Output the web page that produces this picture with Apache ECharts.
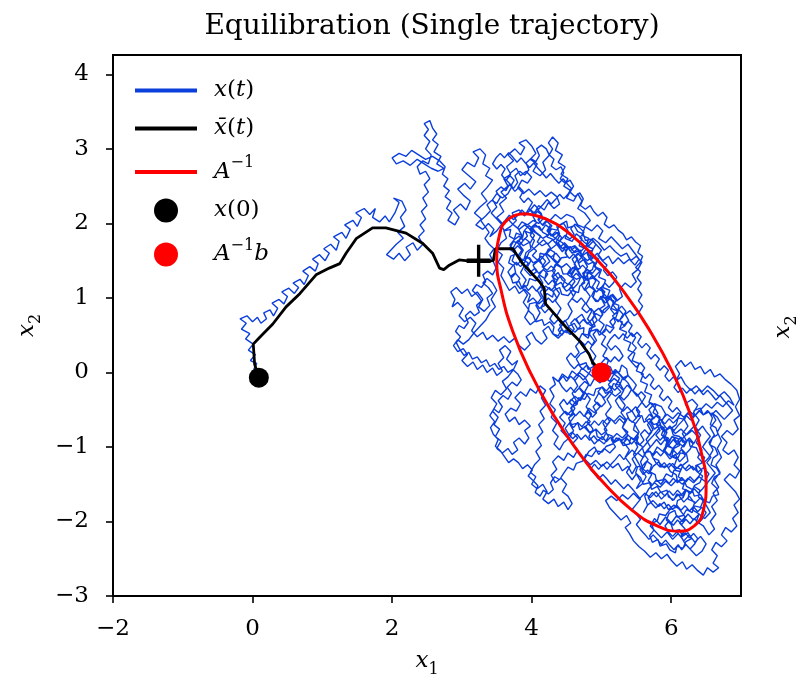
<!DOCTYPE html>
<html>
<head>
<meta charset="utf-8">
<script src="https://cdn.jsdelivr.net/npm/echarts@6/dist/echarts.min.js"></script>
<style>
  html, body { margin: 0; padding: 0; background: #fff; }
  #chart { width: 804px; height: 683px; }
</style>
</head>
<body>
<div id="chart"></div>
<script>
// tick values
const xTicks = [-2, 0, 2, 4, 6];
const yTicks = [-3, -2, -1, 0, 1, 2, 3, 4];

// single trajectory x(t) (x, y pairs)
const walkStart = [0.09,-0.07, 0.02,0.05, 0.06,0.12, -0.03,0.16, 0.04,0.24, -0.06,0.3, 0.01,0.38, -0.1,0.45, -0.04,0.52, -0.16,0.58, -0.09,0.66, -0.18,0.72, -0.08,0.76, 0.0,0.68, 0.07,0.74, 0.12,0.66, 0.2,0.72, 0.16,0.8, 0.25,0.84, 0.3,0.76, 0.36,0.86, 0.28,0.93, 0.38,0.98, 0.45,0.92, 0.5,1.02, 0.42,1.08, 0.52,1.13, 0.6,1.06, 0.66,1.14, 0.58,1.2, 0.68,1.25, 0.74,1.18, 0.8,1.3, 0.72,1.36, 0.82,1.42, 0.9,1.36, 0.94,1.46, 0.86,1.52, 0.96,1.58, 1.04,1.5, 1.1,1.6, 1.02,1.66, 1.12,1.72, 1.2,1.64, 1.24,1.76, 1.16,1.82, 1.28,1.88, 1.34,1.8, 1.4,1.92, 1.32,1.98, 1.44,2.04, 1.5,1.96, 1.56,2.08, 1.48,2.14, 1.6,2.2, 1.68,2.12, 1.76,2.2, 1.72,2.08, 1.82,2.02, 1.9,2.1, 1.96,2.02, 2.04,2.14, 2.1,2.28, 2.02,2.34, 2.14,2.3, 2.2,2.18, 2.12,2.08, 2.18,1.96, 2.08,1.88, 2.16,1.8, 2.06,1.72];
const walkDip = [2.0,1.66, 1.92,1.58, 2.02,1.52, 2.1,1.6, 2.18,1.5, 2.26,1.58, 2.2,1.68, 2.3,1.74, 2.36,1.64, 2.44,1.72, 2.38,1.82, 2.46,1.9, 2.4,1.98, 2.48,2.06, 2.42,2.16, 2.5,2.24, 2.44,2.34, 2.52,2.42, 2.46,2.52, 2.54,2.6, 2.48,2.7, 2.4,2.66, 2.36,2.76, 2.44,2.84, 2.52,2.8, 2.56,2.92, 2.48,3.0, 2.54,3.1, 2.46,3.18, 2.52,3.26, 2.46,3.34, 2.54,3.38, 2.58,3.28, 2.64,3.2, 2.58,3.12, 2.66,3.06, 2.6,2.96, 2.7,2.9, 2.64,2.8, 2.74,2.74, 2.66,2.7, 2.56,2.74, 2.46,2.8, 2.36,2.86, 2.26,2.78, 2.16,2.84, 2.06,2.8, 2.0,2.88, 2.1,2.94, 2.2,2.9, 2.28,2.98, 2.38,2.92, 2.48,2.86, 2.58,2.9, 2.68,2.84, 2.76,2.76, 2.72,2.66, 2.8,2.6, 2.74,2.5, 2.82,2.44, 2.76,2.36, 2.84,2.3, 2.78,2.2, 2.86,2.14, 2.8,2.04, 2.9,1.98];
const walkCluster = [2.96,2.08, 2.88,2.18, 2.98,2.26, 3.06,2.18, 3.12,2.3, 3.02,2.38, 2.94,2.46, 3.04,2.54, 3.12,2.46, 3.2,2.56, 3.1,2.64, 3.0,2.72, 3.08,2.82, 3.18,2.76, 3.24,2.88, 3.16,2.96, 3.26,3.0, 3.34,2.92, 3.3,2.8, 3.4,2.74, 3.34,2.64, 3.44,2.58, 3.36,2.48, 3.28,2.4, 3.36,2.3, 3.26,2.22, 3.18,2.14, 3.28,2.06, 3.2,1.98, 3.3,1.92, 3.38,2.0, 3.46,1.92, 3.4,1.82];
const walkTop = [3.5,1.9, 3.58,2.0, 3.5,2.08, 3.6,2.16, 3.54,2.26, 3.64,2.34, 3.56,2.42, 3.66,2.5, 3.6,2.6, 3.7,2.66, 3.64,2.76, 3.74,2.84, 3.66,2.92, 3.76,3.0, 3.84,2.92, 3.9,3.02, 3.82,3.08, 3.92,3.12, 4.0,3.04, 4.06,2.94, 3.98,2.86, 4.08,2.8, 4.02,2.7, 4.12,2.64, 4.2,2.72, 4.16,2.82, 4.24,2.9, 4.3,3.0, 4.24,3.08, 4.3,3.16, 4.38,3.08, 4.34,2.98, 4.44,2.92, 4.38,2.82, 4.48,2.76, 4.42,2.66, 4.52,2.6, 4.46,2.5, 4.56,2.44, 4.5,2.34, 4.6,2.3, 4.66,2.4, 4.72,2.3, 4.66,2.2, 4.76,2.14, 4.84,2.04, 4.76,1.96, 4.86,1.9, 4.94,1.98, 5.02,1.9, 4.96,1.8, 5.06,1.74, 5.14,1.82, 5.22,1.74, 5.3,1.66, 5.38,1.72, 5.46,1.62, 5.54,1.52, 5.48,1.44, 5.4,1.52, 5.32,1.46, 5.24,1.54, 5.16,1.46, 5.1,1.56, 5.02,1.5, 4.94,1.6, 4.86,1.52, 4.8,1.62, 4.72,1.56, 4.66,1.66, 4.58,1.6, 4.5,1.7, 4.44,1.62, 4.36,1.72, 4.28,1.66];
const walkUpperCore = [4.2,1.58, 4.26,1.49, 4.18,1.42, 4.1,1.5, 4.02,1.44, 4.07,1.35, 3.98,1.3, 3.9,1.38, 3.95,1.47, 3.86,1.52, 3.79,1.44, 3.72,1.5, 3.76,1.6, 3.68,1.66, 3.74,1.76, 3.84,1.72, 3.9,1.8, 3.98,1.74, 4.04,1.84, 3.97,1.92, 4.06,1.98, 4.14,1.9, 4.2,1.98, 4.28,1.92, 4.22,1.82, 4.32,1.78, 4.4,1.86, 4.36,1.96, 4.46,2.0, 4.52,1.9, 4.48,1.8, 4.58,1.76, 4.64,1.86, 4.72,1.8, 4.68,1.7, 4.78,1.66, 4.72,1.57, 4.8,1.5, 4.88,1.58, 4.96,1.52, 4.9,1.42, 4.98,1.36, 4.9,1.28, 4.82,1.34, 4.76,1.26, 4.68,1.32, 4.62,1.42, 4.54,1.36, 4.6,1.26, 4.52,1.18, 4.44,1.24, 4.38,1.34, 4.3,1.28, 4.36,1.18, 4.28,1.1, 4.2,1.16, 4.12,1.08, 4.18,0.98, 4.1,0.92, 4.02,1.0, 3.94,0.94, 3.98,1.04, 3.9,1.12, 3.82,1.06, 3.76,1.16, 3.68,1.1, 3.62,1.2, 3.56,1.3, 3.6,1.4, 3.52,1.48, 3.58,1.58, 3.5,1.64, 3.56,1.74, 3.64,1.8, 3.6,1.9, 3.7,1.96, 3.78,2.04, 3.72,2.14, 3.82,2.18, 3.9,2.1, 3.96,2.2, 4.04,2.14, 4.1,2.24, 4.18,2.18, 4.24,2.28, 4.32,2.2, 4.4,2.26, 4.36,2.36, 4.28,2.42, 4.2,2.36, 4.12,2.44, 4.04,2.38, 3.96,2.46, 3.88,2.4, 3.8,2.48, 3.86,2.58, 3.94,2.54, 4.0,2.62, 3.92,2.7, 3.84,2.64, 3.78,2.74, 3.7,2.68, 3.64,2.58, 3.72,2.5, 3.66,2.4, 3.58,2.34, 3.5,2.4, 3.44,2.32, 3.5,2.22, 3.42,2.14, 3.5,2.06, 3.58,1.98, 3.66,2.06];
const walkUpperRight = [3.74,1.98, 3.82,1.92, 3.9,1.98, 3.98,1.92, 4.08,1.86, 4.16,1.8, 4.26,1.86, 4.34,1.8, 4.44,1.74, 4.52,1.66, 4.62,1.7, 4.7,1.62, 4.8,1.72, 4.88,1.8, 4.96,1.74, 5.04,1.64, 5.12,1.7, 5.2,1.62, 5.28,1.56, 5.36,1.6, 5.42,1.5, 5.5,1.56, 5.58,1.48, 5.52,1.38, 5.44,1.32, 5.5,1.22, 5.42,1.14, 5.34,1.2, 5.26,1.12, 5.3,1.02, 5.22,0.96, 5.14,1.04, 5.06,0.98, 5.12,0.88, 5.04,0.8, 4.96,0.86, 4.88,0.8, 4.94,0.7, 4.86,0.62, 4.78,0.68, 4.72,0.78, 4.64,0.72, 4.7,0.62, 4.62,0.54, 4.54,0.6, 4.48,0.7, 4.4,0.64, 4.46,0.54, 4.38,0.46, 4.3,0.52, 4.24,0.62, 4.16,0.56, 4.22,0.46, 4.14,0.38, 4.06,0.44, 4.0,0.54, 3.92,0.48, 3.98,0.38, 3.9,0.3, 3.82,0.36, 3.76,0.46, 3.68,0.4];
const walkLeft = [3.6,0.48, 3.52,0.42, 3.44,0.5, 3.36,0.44, 3.3,0.54, 3.22,0.48, 3.14,0.56, 3.2,0.66, 3.12,0.74, 3.04,0.68, 2.96,0.76, 3.02,0.86, 2.94,0.94, 2.86,0.88, 2.9,0.98, 2.84,1.08, 2.92,1.14, 3.0,1.06, 3.08,1.12, 3.14,1.02, 3.22,1.08, 3.3,0.98, 3.24,0.88, 3.32,0.82, 3.4,0.9, 3.36,1.0, 3.44,1.06, 3.38,1.14, 3.3,1.2, 3.36,1.26, 3.44,1.2, 3.5,1.1, 3.42,0.98, 3.48,0.88, 3.4,0.8, 3.34,0.7, 3.26,0.62, 3.18,0.54, 3.1,0.44, 3.02,0.38, 2.94,0.44, 2.88,0.36, 2.94,0.28, 3.02,0.32, 3.08,0.24, 3.0,0.16, 3.08,0.08, 3.16,0.14, 3.22,0.04, 3.3,0.1, 3.36,0.0, 3.44,0.06, 3.5,-0.04, 3.58,0.02, 3.52,0.12, 3.6,0.2, 3.54,0.3, 3.62,0.36, 3.7,0.28, 3.64,0.18, 3.72,0.1, 3.8,0.16];
const walkLowerLeft = [3.74,0.04, 3.66,-0.06, 3.58,-0.12, 3.64,-0.22, 3.56,-0.3, 3.48,-0.24, 3.42,-0.34, 3.5,-0.42, 3.44,-0.52, 3.52,-0.6, 3.46,-0.7, 3.54,-0.76, 3.48,-0.86, 3.56,-0.92, 3.5,-1.02, 3.58,-1.08, 3.66,-1.02, 3.72,-1.1, 3.8,-1.04, 3.74,-0.94, 3.82,-0.88, 3.9,-0.96, 3.96,-0.88, 3.9,-0.78, 3.98,-0.72, 3.9,-0.64, 3.82,-0.7, 3.76,-0.6, 3.68,-0.66, 3.62,-0.56, 3.7,-0.48, 3.78,-0.52, 3.84,-0.42, 3.76,-0.34, 3.84,-0.26, 3.92,-0.32, 3.98,-0.22, 4.06,-0.28, 4.12,-0.18, 4.2,-0.24, 4.14,-0.34, 4.2,-0.44, 4.12,-0.52, 4.18,-0.62, 4.1,-0.7, 4.16,-0.8, 4.08,-0.88, 4.14,-0.98, 4.06,-1.06, 4.12,-1.16, 4.04,-1.24, 3.98,-1.34, 4.06,-1.4, 4.0,-1.5, 4.08,-1.56, 4.16,-1.5, 4.22,-1.6, 4.16,-1.7, 4.24,-1.76, 4.32,-1.7, 4.38,-1.8, 4.46,-1.74, 4.52,-1.84, 4.58,-1.76, 4.52,-1.66, 4.44,-1.6, 4.5,-1.5, 4.42,-1.42, 4.34,-1.48, 4.28,-1.38, 4.36,-1.3, 4.3,-1.2, 4.38,-1.12, 4.46,-1.18, 4.52,-1.08];
const walkCore = [4.6,-1.14, 4.66,-1.04, 4.58,-0.96, 4.66,-0.88, 4.58,-0.8, 4.5,-0.86, 4.42,-0.78, 4.48,-0.68, 4.4,-0.6, 4.48,-0.52, 4.56,-0.58, 4.62,-0.48, 4.54,-0.4, 4.62,-0.32, 4.7,-0.38, 4.76,-0.28, 4.68,-0.2, 4.76,-0.12, 4.84,-0.18, 4.9,-0.08, 4.98,-0.14, 5.04,-0.06, 5.12,-0.12, 5.18,-0.02, 5.26,-0.08, 5.2,-0.18, 5.28,-0.26, 5.2,-0.32, 5.12,-0.26, 5.04,-0.34, 4.96,-0.28, 4.9,-0.38, 4.98,-0.46, 4.9,-0.54, 4.82,-0.48, 4.76,-0.58, 4.84,-0.66, 4.76,-0.74, 4.84,-0.82, 4.92,-0.76, 5.0,-0.84, 5.08,-0.78, 5.02,-0.68, 5.1,-0.6, 5.18,-0.66, 5.26,-0.58, 5.34,-0.64, 5.3,-0.74, 5.38,-0.8, 5.3,-0.88, 5.22,-0.82, 5.14,-0.9, 5.2,-1.0, 5.12,-1.08, 5.04,-1.02, 4.96,-1.1, 4.9,-1.0, 4.82,-1.06, 4.76,-1.16, 4.84,-1.24, 4.92,-1.18, 5.0,-1.26, 5.08,-1.2, 5.16,-1.28, 5.24,-1.22, 5.3,-1.32, 5.38,-1.26, 5.44,-1.36, 5.5,-1.26, 5.44,-1.16, 5.52,-1.08, 5.6,-1.14, 5.66,-1.04];
const walkLowerRight = [5.74,-1.1, 5.8,-1.0, 5.88,-1.06, 5.94,-0.96, 6.02,-1.02, 6.1,-0.94, 6.18,-1.0, 6.24,-0.9, 6.32,-0.96, 6.38,-0.86, 6.3,-0.78, 6.22,-0.84, 6.14,-0.76, 6.06,-0.82, 5.98,-0.74, 5.9,-0.8, 5.84,-0.7, 5.76,-0.76, 5.7,-0.66, 5.78,-0.58, 5.86,-0.64, 5.94,-0.56, 6.02,-0.62, 6.1,-0.54, 6.18,-0.6, 6.26,-0.52, 6.34,-0.58, 6.42,-0.5, 6.5,-0.42, 6.58,-0.48, 6.66,-0.4, 6.74,-0.46, 6.82,-0.38, 6.9,-0.44, 6.84,-0.34, 6.76,-0.26, 6.68,-0.32, 6.6,-0.24, 6.52,-0.18, 6.44,-0.26, 6.36,-0.18, 6.28,-0.24, 6.2,-0.16, 6.14,-0.06, 6.06,-0.12, 6.12,-0.02, 6.06,0.08, 6.14,0.16, 6.2,0.08, 6.28,0.14, 6.34,0.04, 6.42,0.08, 6.48,-0.02, 6.56,0.04, 6.62,-0.06, 6.7,-0.02, 6.78,-0.1];
const walkEdge = [6.86,-0.16, 6.94,-0.24, 6.98,-0.36, 6.92,-0.46, 6.98,-0.58, 6.9,-0.64, 6.96,-0.76, 6.88,-0.84, 6.8,-0.78, 6.72,-0.86, 6.8,-0.94, 6.74,-1.04, 6.82,-1.1, 6.9,-1.04, 6.96,-1.14, 6.9,-1.24, 6.98,-1.32, 6.92,-1.42, 6.84,-1.36, 6.76,-1.44, 6.84,-1.52, 6.92,-1.6, 6.98,-1.7, 6.9,-1.78, 6.96,-1.88, 6.88,-1.96, 6.94,-2.06, 6.86,-2.14, 6.78,-2.08, 6.72,-2.18, 6.8,-2.26, 6.72,-2.34, 6.64,-2.28, 6.58,-2.38, 6.66,-2.46, 6.6,-2.56, 6.68,-2.62, 6.6,-2.68, 6.52,-2.62, 6.46,-2.72, 6.38,-2.66, 6.3,-2.58, 6.22,-2.64, 6.16,-2.54, 6.08,-2.6, 6.0,-2.52, 5.94,-2.44, 5.86,-2.5, 5.78,-2.42, 5.7,-2.48, 5.62,-2.4, 5.54,-2.34, 5.46,-2.26, 5.4,-2.16, 5.34,-2.08, 5.42,-2.02, 5.36,-1.92, 5.28,-1.98, 5.2,-1.9, 5.12,-1.82, 5.06,-1.72, 5.14,-1.66, 5.22,-1.72, 5.3,-1.64, 5.38,-1.7, 5.46,-1.62, 5.54,-1.7, 5.62,-1.62, 5.7,-1.68];
const walkBottom = [5.78,-1.6, 5.86,-1.7, 5.94,-1.62, 6.02,-1.72, 6.1,-1.64, 6.18,-1.74, 6.26,-1.66, 6.34,-1.76, 6.42,-1.68, 6.5,-1.78, 6.56,-1.88, 6.48,-1.96, 6.4,-1.9, 6.32,-1.98, 6.24,-1.9, 6.16,-2.0, 6.08,-1.92, 6.0,-2.02, 5.92,-1.94, 5.84,-2.04, 5.76,-1.96, 5.7,-2.06, 5.78,-2.14, 5.86,-2.22, 5.94,-2.14, 6.02,-2.24, 6.1,-2.16, 6.18,-2.26, 6.26,-2.18, 6.34,-2.28, 6.42,-2.2, 6.5,-2.3, 6.44,-2.4, 6.36,-2.46, 6.28,-2.38, 6.2,-2.3, 6.14,-2.2, 6.2,-2.1, 6.12,-2.02, 6.2,-1.94, 6.12,-1.84, 6.04,-1.78, 5.96,-1.84, 5.9,-1.74, 5.82,-1.8, 5.74,-1.72, 5.66,-1.78, 5.6,-1.88, 5.66,-1.78, 5.62,-1.66, 5.68,-1.56, 5.76,-1.48, 5.84,-1.54, 5.92,-1.46, 6.0,-1.52, 6.08,-1.44, 6.16,-1.5, 6.24,-1.42, 6.32,-1.48, 6.4,-1.4, 6.48,-1.46, 6.54,-1.36, 6.46,-1.28, 6.38,-1.34, 6.3,-1.26, 6.22,-1.32, 6.14,-1.24, 6.06,-1.3, 5.98,-1.22, 5.9,-1.28, 5.82,-1.2, 5.74,-1.26, 5.68,-1.36, 5.6,-1.3, 5.56,-1.2];
const walkSweep = [5.62,-1.1, 5.7,-1.0, 5.64,-0.9, 5.72,-0.8, 5.66,-0.7, 5.74,-0.6, 5.68,-0.5, 5.76,-0.42, 5.86,-0.46, 5.92,-0.56, 5.86,-0.66, 5.94,-0.76, 5.88,-0.86, 5.96,-0.96, 5.9,-1.06, 5.98,-1.16, 6.06,-1.1, 6.12,-1.2, 6.2,-1.12, 6.14,-1.02, 6.22,-0.92, 6.16,-0.82, 6.24,-0.72, 6.18,-0.62, 6.26,-0.52, 6.2,-0.42, 6.3,-0.36, 6.38,-0.44, 6.32,-0.54, 6.4,-0.64, 6.34,-0.74, 6.42,-0.84, 6.36,-0.94, 6.44,-1.04, 6.38,-1.14, 6.46,-1.22, 6.54,-1.14, 6.6,-1.04, 6.54,-0.94, 6.62,-0.84, 6.56,-0.74, 6.64,-0.64, 6.58,-0.54, 6.66,-0.6, 6.72,-0.7, 6.66,-0.8, 6.72,-0.92, 6.66,-1.02, 6.72,-1.14, 6.64,-1.24, 6.7,-1.34, 6.62,-1.44, 6.68,-1.54, 6.6,-1.62, 6.66,-1.72, 6.58,-1.8, 6.64,-1.9, 6.56,-2.0, 6.62,-2.1, 6.54,-2.18];
const walkReturn = [6.46,-2.06, 6.36,-2.0, 6.4,-1.9, 6.3,-1.84, 6.34,-1.74, 6.24,-1.7, 6.26,-1.6, 6.16,-1.56, 6.2,-1.46, 6.1,-1.4, 6.14,-1.3, 6.04,-1.26, 6.08,-1.16, 5.98,-1.12, 6.02,-1.02, 5.92,-0.98, 5.96,-0.88, 5.86,-0.84, 5.9,-0.74, 5.8,-0.7, 5.84,-0.6, 5.74,-0.54, 5.78,-0.44, 5.68,-0.4, 5.72,-0.3, 5.62,-0.26, 5.66,-0.16, 5.56,-0.12, 5.6,-0.02, 5.5,0.02, 5.54,0.12, 5.44,0.16, 5.48,0.26, 5.38,0.3, 5.42,0.4, 5.32,0.44, 5.36,0.54, 5.26,0.58, 5.3,0.68, 5.2,0.72, 5.24,0.82, 5.14,0.86, 5.18,0.96, 5.08,1.0, 5.12,1.1, 5.02,1.14, 5.06,1.24, 4.96,1.28, 5.0,1.38, 4.9,1.42, 4.94,1.52, 4.84,1.56, 4.88,1.66, 4.78,1.7, 4.82,1.8, 4.72,1.84, 4.76,1.94, 4.66,1.98, 4.6,2.08, 4.5,2.12, 4.42,2.06, 4.34,2.12, 4.26,2.04, 4.18,2.08, 4.1,2.0, 4.02,2.04, 3.94,1.98, 3.86,2.02];
const walkColumns = [3.8,1.94, 3.86,1.84, 3.8,1.74, 3.88,1.64, 3.82,1.54, 3.9,1.44, 3.84,1.34, 3.92,1.24, 3.86,1.14, 3.94,1.04, 3.88,0.94, 3.96,0.84, 3.9,0.74, 3.98,0.64, 4.06,0.7, 4.12,0.8, 4.06,0.9, 4.14,1.0, 4.08,1.1, 4.16,1.2, 4.1,1.3, 4.18,1.4, 4.12,1.5, 4.2,1.6, 4.28,1.54, 4.36,1.46, 4.3,1.36, 4.38,1.26, 4.32,1.16, 4.4,1.06, 4.34,0.96, 4.42,0.86, 4.36,0.76, 4.44,0.66, 4.52,0.72, 4.58,0.82, 4.52,0.92, 4.6,1.02, 4.54,1.12, 4.62,1.22, 4.56,1.32, 4.64,1.42, 4.58,1.52, 4.66,1.6, 4.74,1.52, 4.8,1.42, 4.74,1.32, 4.82,1.22, 4.76,1.12, 4.84,1.02, 4.78,0.92, 4.86,0.82, 4.8,0.72, 4.88,0.62, 4.82,0.52, 4.9,0.42, 4.84,0.32, 4.92,0.22, 4.86,0.12, 4.94,0.04];
const walkCoreColumns = [4.88,-0.06, 4.8,0.0, 4.72,0.06, 4.66,-0.04, 4.58,0.02, 4.52,-0.08, 4.44,-0.02, 4.38,-0.12, 4.3,-0.06, 4.34,-0.16, 4.26,-0.22, 4.32,-0.32, 4.26,-0.42, 4.34,-0.5, 4.28,-0.6, 4.36,-0.68, 4.3,-0.78, 4.38,-0.86, 4.32,-0.96, 4.4,-1.04, 4.46,-0.94, 4.54,-0.88, 4.6,-0.78, 4.54,-0.68, 4.62,-0.58, 4.56,-0.48, 4.64,-0.38, 4.58,-0.28, 4.66,-0.18, 4.6,-0.08, 4.68,0.0, 4.76,-0.06, 4.82,-0.16, 4.76,-0.26, 4.84,-0.36, 4.78,-0.46, 4.86,-0.56, 4.8,-0.66, 4.88,-0.76, 4.82,-0.86, 4.9,-0.96, 4.96,-0.9, 5.04,-0.96, 5.1,-0.86, 5.04,-0.76, 5.12,-0.66, 5.06,-0.56, 5.14,-0.46, 5.08,-0.36, 5.16,-0.26, 5.1,-0.16, 5.18,-0.08, 5.26,-0.14, 5.32,-0.24, 5.26,-0.34, 5.34,-0.44, 5.28,-0.54, 5.36,-0.64, 5.3,-0.74, 5.38,-0.84, 5.32,-0.94, 5.4,-1.04, 5.34,-1.14, 5.42,-1.24, 5.36,-1.34, 5.44,-1.44, 5.5,-1.36, 5.56,-1.46, 5.5,-1.56, 5.58,-1.5, 5.64,-1.4, 5.58,-1.3, 5.52,-1.2, 5.46,-1.1, 5.52,-1.0, 5.46,-0.9, 5.54,-0.8, 5.48,-0.7, 5.56,-0.6, 5.5,-0.5, 5.58,-0.4, 5.52,-0.3, 5.44,-0.24, 5.38,-0.14, 5.3,-0.06, 5.22,0.02, 5.14,-0.02, 5.06,0.06, 5.1,0.16, 5.02,0.22, 5.08,0.32, 5.0,0.38, 5.06,0.48, 4.98,0.54, 5.04,0.64, 4.96,0.7];
const walkDenseUpper = [5.02,0.78, 4.97,0.85, 5.05,0.9, 5.0,0.99, 4.92,0.95, 4.86,1.03, 4.9,1.11, 4.83,1.16, 4.76,1.1, 4.71,1.18, 4.78,1.25, 4.73,1.33, 4.8,1.38, 4.87,1.33, 4.93,1.4, 4.88,1.48, 4.81,1.45, 4.75,1.52, 4.68,1.47, 4.63,1.55, 4.69,1.62, 4.62,1.68, 4.55,1.63, 4.5,1.71, 4.44,1.66, 4.38,1.74, 4.43,1.81, 4.37,1.88, 4.3,1.83, 4.24,1.9, 4.29,1.97, 4.22,2.03, 4.16,1.97, 4.1,2.04, 4.15,2.11, 4.08,2.16, 4.02,2.09, 4.07,2.01, 4.0,1.95, 4.06,1.88, 4.13,1.83, 4.08,1.75, 4.15,1.7, 4.22,1.74, 4.27,1.67, 4.21,1.6, 4.28,1.55, 4.35,1.6, 4.41,1.53, 4.36,1.46, 4.43,1.41, 4.5,1.46, 4.56,1.4, 4.51,1.32, 4.58,1.27, 4.64,1.33, 4.7,1.27, 4.66,1.19, 4.6,1.13, 4.54,1.19, 4.47,1.14, 4.42,1.21, 4.35,1.17, 4.3,1.24, 4.24,1.18, 4.18,1.25, 4.23,1.32, 4.17,1.38, 4.1,1.33, 4.05,1.4, 3.99,1.35, 3.94,1.42, 3.99,1.5, 3.93,1.56, 3.87,1.5, 3.81,1.57, 3.86,1.64, 3.8,1.7, 3.74,1.64, 3.69,1.71, 3.75,1.78, 3.82,1.83, 3.88,1.77, 3.94,1.83, 3.9,1.91, 3.96,1.97, 4.03,1.92, 3.98,1.84, 4.04,1.77, 4.0,1.69, 4.07,1.63, 4.01,1.57, 4.08,1.51, 4.14,1.56, 4.2,1.49, 4.15,1.42, 4.22,1.37, 4.28,1.43, 4.34,1.37, 4.29,1.29, 4.36,1.24, 4.42,1.3, 4.48,1.24, 4.44,1.16, 4.5,1.09, 4.57,1.14, 4.63,1.07, 4.58,0.99, 4.65,0.94, 4.71,1.0, 4.77,0.93, 4.72,0.86, 4.79,0.8, 4.85,0.86, 4.91,0.79, 4.86,0.71, 4.8,0.65, 4.74,0.71, 4.68,0.65, 4.62,0.72, 4.56,0.66, 4.61,0.58, 4.55,0.51, 4.49,0.57, 4.43,0.5, 4.38,0.57, 4.44,0.64, 4.38,0.71, 4.32,0.65, 4.26,0.72, 4.31,0.8, 4.25,0.86, 4.19,0.8, 4.13,0.87, 4.18,0.94, 4.24,1.0, 4.3,0.94, 4.36,1.0, 4.31,1.08, 4.25,1.14, 4.19,1.08, 4.13,1.15, 4.07,1.09, 4.01,1.16, 3.95,1.1, 3.9,1.17, 3.84,1.12, 3.78,1.19, 3.83,1.26, 3.77,1.33, 3.71,1.27, 3.66,1.35, 3.72,1.42, 3.78,1.48, 3.84,1.42, 3.9,1.48, 3.96,1.61, 4.03,1.66, 4.1,1.72, 4.17,1.78, 4.23,1.72, 4.3,1.78, 4.36,1.72, 4.42,1.78, 4.48,1.84, 4.55,1.79, 4.61,1.85, 4.56,1.93, 4.62,1.99, 4.69,1.94, 4.75,1.88, 4.69,1.81, 4.75,1.75, 4.82,1.7, 4.88,1.76, 4.94,1.7, 5.0,1.64, 4.95,1.57, 5.01,1.5, 5.08,1.44, 5.03,1.37, 5.09,1.3, 5.16,1.35, 5.22,1.28, 5.17,1.2, 5.11,1.14, 5.05,1.2, 4.99,1.13, 5.04,1.05, 5.1,0.99, 5.16,1.05, 5.22,0.98, 5.17,0.9, 5.23,0.83, 5.29,0.89, 5.35,0.82, 5.3,0.74, 5.24,0.68, 5.18,0.74, 5.12,0.68, 5.18,0.6, 5.12,0.53, 5.06,0.59, 5.0,0.52, 4.94,0.58, 4.88,0.51, 4.93,0.43, 4.87,0.36, 4.81,0.42, 4.75,0.35, 4.69,0.42, 4.63,0.35, 4.68,0.27, 4.62,0.2, 4.56,0.26, 4.5,0.19, 4.55,0.11, 4.61,0.05];
const walkDenseCore = [4.67,0.11, 4.73,0.04, 4.79,0.1, 4.85,0.03, 4.8,-0.04, 4.74,-0.1, 4.68,-0.04, 4.62,-0.11, 4.56,-0.05, 4.5,-0.12, 4.45,-0.05, 4.39,-0.12, 4.44,-0.2, 4.5,-0.26, 4.56,-0.2, 4.62,-0.27, 4.68,-0.21, 4.74,-0.28, 4.69,-0.36, 4.63,-0.42, 4.57,-0.36, 4.51,-0.43, 4.46,-0.36, 4.4,-0.43, 4.45,-0.51, 4.51,-0.57, 4.57,-0.51, 4.63,-0.58, 4.69,-0.52, 4.75,-0.59, 4.81,-0.53, 4.87,-0.6, 4.93,-0.54, 4.88,-0.46, 4.94,-0.4, 5.0,-0.46, 5.06,-0.4, 5.01,-0.32, 4.95,-0.26, 5.01,-0.19, 5.07,-0.25, 5.13,-0.18, 5.19,-0.24, 5.25,-0.18, 5.31,-0.24, 5.37,-0.17, 5.43,-0.23, 5.38,-0.31, 5.32,-0.37, 5.26,-0.31, 5.2,-0.38, 5.25,-0.46, 5.31,-0.52, 5.37,-0.46, 5.43,-0.52, 5.49,-0.46, 5.55,-0.53, 5.5,-0.61, 5.44,-0.67, 5.38,-0.61, 5.32,-0.68, 5.26,-0.62, 5.2,-0.69, 5.14,-0.63, 5.08,-0.7, 5.02,-0.64, 4.96,-0.71, 4.9,-0.65, 4.84,-0.72, 4.78,-0.66, 4.72,-0.73, 4.66,-0.67, 4.6,-0.74, 4.54,-0.68, 4.48,-0.75, 4.53,-0.83, 4.59,-0.89, 4.65,-0.83, 4.71,-0.9, 4.77,-0.84, 4.83,-0.91, 4.89,-0.85, 4.95,-0.92, 5.01,-0.86, 5.07,-0.93, 5.13,-0.87, 5.19,-0.94, 5.25,-0.88, 5.31,-0.95, 5.37,-0.89, 5.43,-0.96, 5.49,-0.9, 5.55,-0.97, 5.61,-0.91, 5.56,-0.83, 5.62,-0.77, 5.68,-0.83, 5.74,-0.77, 5.69,-0.69, 5.63,-0.63, 5.69,-0.56, 5.75,-0.62, 5.81,-0.55, 5.76,-0.47, 5.7,-0.41, 5.64,-0.47, 5.58,-0.4, 5.63,-0.32, 5.57,-0.26, 5.51,-0.32, 5.45,-0.25, 5.5,-0.17, 5.44,-0.1, 5.38,-0.04, 5.32,-0.1, 5.26,-0.03, 5.2,0.04, 5.14,-0.02, 5.08,0.05, 5.02,-0.01, 4.96,0.06, 5.01,0.14, 5.07,0.2, 5.13,0.14, 5.19,0.21, 5.25,0.15, 5.31,0.22, 5.26,0.3, 5.2,0.36, 5.14,0.3, 5.08,0.37, 5.13,0.45, 5.19,0.51, 5.25,0.45, 5.31,0.52, 5.37,0.46, 5.43,0.53, 5.49,0.47, 5.44,0.39, 5.5,0.33, 5.44,0.26, 5.38,0.2, 5.44,0.13, 5.5,0.07, 5.56,0.13, 5.62,0.06, 5.57,-0.02, 5.63,-0.08, 5.69,-0.02, 5.75,-0.09, 5.7,-0.17, 5.76,-0.23, 5.82,-0.17, 5.88,-0.24, 5.83,-0.32, 5.89,-0.38, 5.95,-0.32];
const walkDenseLower = [6.01,-0.39, 5.96,-0.47, 6.02,-0.53, 6.08,-0.47, 6.14,-0.54, 6.09,-0.62, 6.03,-0.68, 5.97,-0.62, 5.91,-0.69, 5.85,-0.63, 5.79,-0.7, 5.84,-0.78, 5.78,-0.84, 5.84,-0.91, 5.9,-0.85, 5.96,-0.92, 6.02,-0.86, 6.08,-0.93, 6.14,-0.87, 6.2,-0.94, 6.26,-0.88, 6.32,-0.95, 6.27,-1.03, 6.21,-1.09, 6.15,-1.03, 6.09,-1.1, 6.03,-1.04, 5.97,-1.11, 5.91,-1.05, 5.85,-1.12, 5.79,-1.06, 5.73,-1.13, 5.78,-1.21, 5.84,-1.27, 5.9,-1.21, 5.96,-1.28, 6.02,-1.22, 6.08,-1.29, 6.14,-1.23, 6.2,-1.3, 6.26,-1.24, 6.32,-1.31, 6.38,-1.25, 6.44,-1.32, 6.39,-1.4, 6.33,-1.46, 6.27,-1.4, 6.21,-1.47, 6.15,-1.41, 6.09,-1.48, 6.03,-1.42, 5.97,-1.49, 5.91,-1.43, 5.85,-1.5, 5.79,-1.44, 5.73,-1.51, 5.67,-1.45, 5.72,-1.37, 5.66,-1.31, 5.6,-1.37, 5.55,-1.3, 5.61,-1.23, 5.67,-1.17, 5.61,-1.1, 5.67,-1.03, 5.73,-0.97, 5.79,-0.9, 5.85,-0.97, 5.91,-0.9, 5.97,-0.97, 6.03,-0.9, 6.09,-0.97, 6.15,-0.9, 6.21,-0.84, 6.27,-0.78, 6.33,-0.72, 6.39,-0.78, 6.45,-0.72, 6.5,-0.79, 6.56,-0.86, 6.5,-0.93, 6.45,-1.0, 6.51,-1.07, 6.57,-1.14, 6.51,-1.21, 6.57,-1.28, 6.63,-1.35, 6.57,-1.42, 6.51,-1.49, 6.45,-1.56, 6.39,-1.62, 6.33,-1.56, 6.27,-1.63, 6.21,-1.57, 6.15,-1.64, 6.09,-1.58, 6.03,-1.65, 5.97,-1.59, 5.91,-1.66, 5.85,-1.6, 5.79,-1.67, 5.73,-1.61, 5.67,-1.68, 5.72,-1.76, 5.78,-1.82, 5.84,-1.76, 5.9,-1.83, 5.96,-1.77, 6.02,-1.84, 6.08,-1.78, 6.14,-1.85, 6.2,-1.79, 6.26,-1.86, 6.32,-1.8, 6.38,-1.87, 6.44,-1.81, 6.5,-1.88, 6.45,-1.96, 6.39,-2.02, 6.33,-1.96, 6.27,-2.03, 6.21,-1.97, 6.15,-2.04, 6.09,-1.98, 6.03,-2.05, 5.97,-1.99, 5.91,-2.06, 5.96,-2.14, 6.02,-2.2, 6.08,-2.14, 6.14,-2.21, 6.2,-2.15, 6.26,-2.22, 6.32,-2.16, 6.38,-2.23, 6.33,-2.31, 6.27,-2.37, 6.21,-2.31, 6.15,-2.38, 6.1,-2.31, 6.04,-2.38, 5.98,-2.32, 5.92,-2.25, 5.86,-2.31, 5.8,-2.24, 5.74,-2.18, 5.68,-2.24, 5.62,-2.17, 5.56,-2.11, 5.5,-2.04, 5.56,-1.97, 5.5,-1.9, 5.44,-1.84, 5.5,-1.77, 5.56,-1.7, 5.5,-1.63, 5.44,-1.56, 5.38,-1.5, 5.32,-1.56, 5.26,-1.5, 5.2,-1.44, 5.14,-1.5, 5.08,-1.43, 5.02,-1.37, 4.96,-1.43, 4.9,-1.36, 4.84,-1.3, 4.9,-1.23, 4.96,-1.3, 5.02,-1.23, 5.08,-1.3, 5.14,-1.23, 5.2,-1.17, 5.26,-1.1, 5.32,-1.17, 5.38,-1.1, 5.44,-1.04, 5.5,-1.1, 5.56,-1.04, 5.62,-0.98, 5.68,-0.91, 5.74,-0.85, 5.8,-0.78, 5.86,-0.72, 5.92,-0.78, 5.98,-0.72, 6.04,-0.78, 6.1,-0.71, 6.16,-0.65, 6.22,-0.58, 6.28,-0.64, 6.34,-0.58, 6.4,-0.51, 6.46,-0.57, 6.52,-0.51, 6.58,-0.57, 6.64,-0.51, 6.7,-0.57, 6.76,-0.63, 6.82,-0.57, 6.88,-0.51, 6.82,-0.44, 6.76,-0.38];
const walkClimb = [6.7,-0.31, 6.64,-0.37, 6.58,-0.3, 6.52,-0.24, 6.46,-0.3, 6.4,-0.23, 6.34,-0.29, 6.28,-0.22, 6.22,-0.28, 6.16,-0.21, 6.1,-0.27, 6.04,-0.2, 6.09,-0.12, 6.03,-0.06, 5.97,-0.12, 5.91,-0.05, 5.96,0.03, 5.9,0.09, 5.84,0.03, 5.78,0.1, 5.83,0.18, 5.77,0.24, 5.71,0.18, 5.65,0.25, 5.7,0.33, 5.64,0.39, 5.58,0.33, 5.52,0.4, 5.57,0.48, 5.51,0.54, 5.45,0.48, 5.39,0.55, 5.44,0.63, 5.38,0.69, 5.32,0.63, 5.26,0.7, 5.31,0.78, 5.25,0.84, 5.19,0.78, 5.13,0.85, 5.18,0.93, 5.12,0.99, 5.06,0.93, 5.0,1.0, 5.05,1.08, 4.99,1.14, 4.93,1.08, 4.87,1.15, 4.92,1.23, 4.86,1.29, 4.8,1.23, 4.74,1.3, 4.79,1.38, 4.73,1.44, 4.67,1.38, 4.61,1.45, 4.66,1.53, 4.6,1.59, 4.54,1.53, 4.48,1.6, 4.53,1.68, 4.47,1.74, 4.41,1.68, 4.35,1.75, 4.4,1.83, 4.34,1.89, 4.28,1.83, 4.22,1.9, 4.27,1.98, 4.21,2.04, 4.15,1.98, 4.09,2.05, 4.14,2.13, 4.08,2.19, 4.02,2.13, 3.96,2.2, 4.01,2.28, 3.95,2.34, 3.89,2.28, 3.83,2.35, 3.88,2.43, 3.82,2.49, 3.76,2.43, 3.7,2.5, 3.75,2.58, 3.69,2.64, 3.63,2.58, 3.57,2.65, 3.62,2.73, 3.56,2.79, 3.5,2.73, 3.44,2.8, 3.49,2.88, 3.55,2.94, 3.61,2.88, 3.67,2.95, 3.73,2.89, 3.79,2.82, 3.85,2.88, 3.91,2.81, 3.97,2.75, 4.03,2.81, 4.09,2.74, 4.15,2.68, 4.21,2.61, 4.27,2.67, 4.33,2.6, 4.39,2.54, 4.45,2.6, 4.51,2.53, 4.57,2.47, 4.52,2.39, 4.46,2.33, 4.4,2.39, 4.34,2.32, 4.28,2.26, 4.22,2.32, 4.16,2.25, 4.1,2.19, 4.04,2.25, 3.98,2.18, 3.92,2.12, 3.86,2.18, 3.8,2.11, 3.74,2.05, 3.68,2.11, 3.62,2.04, 3.56,1.98];
const walkDenseMix = [3.61,1.90, 3.70,1.92, 3.68,1.83, 3.75,1.79, 3.78,1.87, 3.86,1.84, 3.82,1.76, 3.88,1.70, 3.97,1.75, 3.99,1.66, 3.92,1.61, 3.89,1.52, 3.97,1.54, 4.02,1.47, 4.11,1.51, 4.12,1.60, 4.20,1.58, 4.24,1.66, 4.33,1.61, 4.31,1.53, 4.38,1.47, 4.43,1.54, 4.51,1.55, 4.48,1.64, 4.55,1.69, 4.61,1.61, 4.70,1.64, 4.72,1.55, 4.66,1.49, 4.70,1.40, 4.62,1.38, 4.57,1.30, 4.64,1.25, 4.73,1.29, 4.76,1.20, 4.69,1.16, 4.67,1.07, 4.58,1.10, 4.52,1.03, 4.43,1.05, 4.40,1.14, 4.32,1.10, 4.30,1.01, 4.22,1.06, 4.16,0.99, 4.19,0.90, 4.11,0.86, 4.06,0.94, 3.97,0.92, 3.95,0.83, 4.02,0.77, 4.06,0.68, 4.15,0.71, 4.18,0.63, 4.26,0.68, 4.32,0.61, 4.30,0.52, 4.38,0.49, 4.42,0.57, 4.51,0.53, 4.53,0.62, 4.61,0.66, 4.66,0.58, 4.75,0.60, 4.74,0.51, 4.81,0.46, 4.84,0.55, 4.93,0.58, 4.97,0.50, 5.05,0.55, 5.07,0.64, 5.15,0.60, 5.20,0.68, 5.16,0.76, 5.23,0.81, 5.25,0.90, 5.17,0.93, 5.13,1.02, 5.04,1.00, 5.01,1.09, 4.93,1.13, 4.97,1.21, 4.90,1.27, 4.81,1.25, 4.79,1.34, 4.87,1.38, 4.90,1.47, 4.83,1.52, 4.79,1.61, 4.87,1.64, 4.92,1.72, 4.86,1.79, 4.77,1.77, 4.74,1.86, 4.66,1.89, 4.61,1.97, 4.52,1.94, 4.50,2.03, 4.42,1.99, 4.36,1.91, 4.27,1.93, 4.24,1.84, 4.16,1.88, 4.11,1.96, 4.02,1.95, 3.98,1.87, 3.89,1.90, 3.87,1.81, 3.79,1.76, 3.74,1.68, 3.78,1.59, 3.70,1.56, 3.67,1.47, 3.75,1.43, 3.77,1.34, 3.70,1.29, 3.73,1.20, 3.82,1.22, 3.86,1.13, 3.94,1.17, 3.97,1.26, 4.06,1.23, 4.11,1.31, 4.19,1.26, 4.21,1.35, 4.30,1.37, 4.34,1.45, 4.42,1.41, 4.45,1.32, 4.54,1.33, 4.59,1.41, 4.67,1.36, 4.73,1.27, 4.82,1.24, 4.83,1.15, 4.91,1.10, 4.88,1.01, 4.95,0.95, 4.99,1.02, 5.08,0.98, 5.10,0.89, 5.03,0.84, 5.00,0.75, 4.92,0.79, 4.87,0.71, 4.91,0.62, 4.83,0.59, 4.81,0.50, 4.72,0.52, 4.68,0.44, 4.75,0.38, 4.78,0.29, 4.70,0.25, 4.64,0.18, 4.69,0.10, 4.78,0.13, 4.81,0.04, 4.89,0.08, 4.94,0.00, 5.03,0.02, 5.05,0.11, 5.13,0.07, 5.17,-0.02, 5.26,0.01, 5.29,0.10, 5.36,0.05, 5.38,-0.04, 5.30,-0.08, 5.26,-0.17, 5.17,-0.15, 5.14,-0.24, 5.06,-0.28, 5.01,-0.20, 4.92,-0.22, 4.89,-0.31, 4.81,-0.28, 4.76,-0.36, 4.67,-0.34, 4.65,-0.43, 4.57,-0.47, 4.60,-0.56, 4.53,-0.61, 4.57,-0.70, 4.66,-0.68, 4.69,-0.77, 4.77,-0.72, 4.83,-0.80, 4.92,-0.77, 4.94,-0.86, 5.02,-0.90, 5.06,-0.82, 5.15,-0.85, 5.18,-0.94, 5.26,-0.90, 5.31,-0.98, 5.40,-0.96, 5.42,-0.87, 5.50,-0.91, 5.53,-0.82, 5.46,-0.77, 5.48,-0.68, 5.40,-0.64, 5.36,-0.55, 5.44,-0.52, 5.49,-0.60, 5.58,-0.58, 5.61,-0.67, 5.69,-0.62, 5.75,-0.70, 5.84,-0.67, 5.86,-0.76, 5.94,-0.80, 5.90,-0.89, 5.97,-0.94, 6.01,-0.86, 6.10,-0.89, 6.12,-0.98, 6.04,-1.02, 6.01,-1.11, 6.09,-1.16, 6.13,-1.08, 6.22,-1.10, 6.24,-1.19, 6.17,-1.24, 6.13,-1.33, 6.04,-1.31, 6.01,-1.40, 5.93,-1.36, 5.88,-1.44, 5.79,-1.46, 5.77,-1.37, 5.69,-1.33, 5.72,-1.24, 5.65,-1.19, 5.61,-1.28, 5.52,-1.26, 5.49,-1.35, 5.56,-1.41, 5.60,-1.50, 5.69,-1.48, 5.72,-1.57, 5.80,-1.53, 5.85,-1.61, 5.94,-1.58, 5.96,-1.67, 6.04,-1.71, 6.08,-1.63, 6.17,-1.66, 6.20,-1.57, 6.28,-1.61, 6.33,-1.53, 6.41,-1.58, 6.39,-1.67, 6.46,-1.72, 6.42,-1.81, 6.33,-1.79, 6.30,-1.88, 6.22,-1.84, 6.17,-1.92, 6.08,-1.94, 6.05,-1.85, 5.97,-1.89, 5.93,-1.98, 6.00,-2.04, 6.03,-2.13, 6.12,-2.11, 6.16,-2.20, 6.24,-2.15, 6.29,-2.23, 6.21,-2.27, 6.17,-2.36, 6.08,-2.33, 6.06,-2.42, 5.98,-2.38, 5.93,-2.30, 5.84,-2.33, 5.81,-2.24, 5.73,-2.28, 5.69,-2.19, 5.75,-2.12, 5.72,-2.03, 5.80,-1.99, 5.83,-1.90, 5.92,-1.92, 5.98,-1.84, 6.07,-1.81, 6.09,-1.72, 6.17,-1.68, 6.21,-1.59, 6.30,-1.61, 6.33,-1.52, 6.41,-1.48, 6.45,-1.39, 6.38,-1.34, 6.35,-1.25, 6.43,-1.22, 6.48,-1.14, 6.40,-1.10, 6.36,-1.01, 6.27,-0.99, 6.25,-0.90, 6.17,-0.94, 6.12,-0.86, 6.03,-0.84, 6.00,-0.75, 6.07,-0.70, 6.10,-0.61, 6.19,-0.63, 6.23,-0.55, 6.31,-0.60, 6.33,-0.51, 6.42,-0.48, 6.46,-0.57, 6.54,-0.53, 6.59,-0.61, 6.56,-0.70, 6.64,-0.74, 6.67,-0.83, 6.59,-0.88, 6.55,-0.97, 6.63,-1.01, 6.67,-1.10, 6.60,-1.15, 6.57,-1.24, 6.65,-1.28, 6.70,-1.36, 6.62,-1.40, 6.58,-1.49, 6.65,-1.55, 6.68,-1.64, 6.59,-1.66, 6.55,-1.75, 6.47,-1.72, 6.42,-1.64, 6.33,-1.66, 6.30,-1.57, 6.22,-1.53, 6.18,-1.44, 6.09,-1.46, 6.07,-1.37, 5.99,-1.33, 5.94,-1.25, 5.85,-1.27, 5.82,-1.18, 5.74,-1.15, 5.70,-1.06, 5.61,-1.08, 5.58,-0.99, 5.50,-0.95, 5.53,-0.86];
const walkLateLeft = [5.45,-0.90, 5.38,-0.84, 5.30,-0.91, 5.21,-0.88, 5.16,-0.96, 5.07,-0.99, 5.01,-1.07, 4.92,-1.05, 4.86,-1.13, 4.78,-1.10, 4.73,-1.19, 4.64,-1.22, 4.60,-1.31, 4.52,-1.27, 4.46,-1.35, 4.40,-1.44, 4.33,-1.40, 4.27,-1.48, 4.31,-1.57, 4.24,-1.63, 4.17,-1.58, 4.12,-1.66, 4.05,-1.61, 4.09,-1.52, 4.02,-1.45, 3.95,-1.39, 4.01,-1.31, 3.94,-1.24, 3.87,-1.29, 3.81,-1.21, 3.74,-1.16, 3.67,-1.21, 3.61,-1.13, 3.55,-1.05, 3.48,-0.99, 3.52,-0.90, 3.45,-0.83, 3.41,-0.74, 3.47,-0.66, 3.40,-0.58, 3.46,-0.49, 3.53,-0.54, 3.58,-0.46, 3.52,-0.38, 3.59,-0.31, 3.66,-0.36, 3.71,-0.28, 3.65,-0.20, 3.72,-0.13, 3.79,-0.18, 3.85,-0.10, 3.80,-0.02, 3.73,0.04, 3.66,0.00, 3.60,0.08, 3.53,0.04, 3.47,0.12, 3.40,0.08, 3.35,0.17, 3.28,0.13, 3.22,0.21, 3.15,0.18, 3.10,0.27, 3.03,0.23, 2.97,0.31, 2.92,0.40, 2.98,0.48, 2.91,0.55, 2.96,0.63, 3.03,0.59, 3.09,0.67, 3.05,0.76, 3.12,0.82, 3.18,0.76, 3.25,0.81, 3.21,0.90, 3.28,0.96, 3.22,1.04, 3.15,1.10, 3.21,1.18, 3.28,1.14, 3.34,1.22, 3.30,1.31, 3.37,1.36, 3.44,1.31, 3.49,1.40, 3.45,1.49, 3.40,1.58, 3.46,1.66, 3.39,1.72, 3.33,1.80, 3.39,1.88, 3.33,1.96, 3.27,2.04, 3.34,2.10, 3.41,2.17, 3.36,2.25, 3.43,2.31, 3.50,2.27, 3.55,2.35, 3.49,2.43, 3.56,2.49, 3.63,2.44, 3.68,2.52];
const walkLateTop = [3.74,2.47, 3.80,2.55, 3.76,2.64, 3.83,2.70, 3.90,2.65, 3.96,2.72, 3.92,2.81, 3.99,2.87, 4.06,2.83, 4.11,2.91, 4.07,3.00, 4.14,3.05, 4.21,3.00, 4.25,2.92, 4.32,2.86, 4.28,2.77, 4.35,2.72, 4.42,2.76, 4.46,2.68, 4.41,2.60, 4.48,2.54, 4.55,2.58, 4.60,2.50, 4.55,2.42, 4.62,2.36, 4.69,2.41, 4.74,2.33, 4.70,2.24, 4.77,2.19, 4.84,2.24, 4.89,2.16, 4.95,2.10, 5.02,2.15, 5.08,2.08, 5.04,1.99, 5.11,1.94, 5.18,1.98, 5.24,1.91, 5.31,1.86, 5.36,1.78, 5.43,1.82, 5.49,1.75, 5.56,1.70, 5.52,1.61, 5.59,1.56, 5.55,1.47, 5.49,1.41, 5.56,1.35, 5.51,1.27, 5.57,1.20, 5.52,1.12, 5.58,1.04, 5.53,0.96, 5.59,0.89, 5.54,0.81, 5.47,0.76, 5.41,0.83, 5.34,0.78, 5.39,0.70, 5.33,0.62, 5.26,0.58];

// running mean x̄(t)
const meanPath = [0.09,-0.07, 0.03,0.11, 0.01,0.38, 0.10,0.47, 0.29,0.65, 0.48,0.88, 0.68,1.06, 0.91,1.31, 1.10,1.40, 1.25,1.46, 1.34,1.60, 1.49,1.80, 1.72,1.94, 1.91,1.94, 2.20,1.87, 2.44,1.73, 2.58,1.60, 2.68,1.40, 2.74,1.38, 2.82,1.44, 2.96,1.51, 3.15,1.49, 3.34,1.49, 3.45,1.50, 3.48,1.66, 3.73,1.66, 3.87,1.46, 4.11,1.22, 4.18,1.13, 4.20,0.92, 4.49,0.61, 4.68,0.43, 4.82,0.25, 4.87,0.14, 4.99,0.01];

// covariance ellipse A^{-1}, points read around the red curve
const ellipsePath = [3.90,2.13, 4.20,2.06, 4.56,1.85, 4.94,1.51, 5.33,1.07, 5.70,0.55, 6.02,0.0, 6.27,-0.55, 6.43,-1.07, 6.50,-1.51, 6.46,-1.85, 6.33,-2.06, 6.10,-2.13, 5.80,-2.06, 5.44,-1.85, 5.06,-1.51, 4.67,-1.07, 4.30,-0.55, 3.98,0.0, 3.73,0.55, 3.57,1.07, 3.50,1.51, 3.54,1.85, 3.67,2.06, 3.90,2.13];

const startPoint = [0.09, -0.07];
const targetPoint = [5.0, 0.0];
const crossPoint = [3.24, 1.5];

const pairs = flat => {
  const out = [];
  for (let i = 0; i < flat.length; i += 2) out.push([flat[i], flat[i + 1]]);
  return out;
};

const walk = pairs([].concat(walkStart, walkDip, walkCluster, walkTop, walkUpperCore, walkUpperRight,
  walkLeft, walkLowerLeft, walkCore, walkLowerRight, walkEdge, walkBottom, walkSweep,
  walkReturn, walkColumns, walkCoreColumns, walkDenseUpper, walkDenseCore, walkDenseLower,
  walkClimb, walkDenseMix, walkLateLeft, walkLateTop));

const SERIF = "'DejaVu Serif', serif";
const rich = {
  i: { fontFamily: SERIF, fontStyle: 'italic', fontSize: 23, lineHeight: 34, color: '#000' },
  r: { fontFamily: SERIF, fontSize: 23, lineHeight: 34, color: '#000' },
  sup: { fontFamily: SERIF, fontSize: 16, lineHeight: 16, verticalAlign: 'top', color: '#000' },
  sub: { fontFamily: SERIF, fontSize: 16, lineHeight: 20, verticalAlign: 'bottom', color: '#000' },
  gap: { width: 12 }
};

const legendLabels = {
  xt: '{gap|}{i|x}{r|(}{i|t}{r|)}',
  xbar: '{gap|}{i|x\u0304}{r|(}{i|t}{r|)}',
  Ainv: '{gap|}{i|A}{sup|\u22121}',
  x0: '{gap|}{i|x}{r|(0)}',
  Ab: '{gap|}{i|A}{sup|\u22121}{i|b}'
};

const minus = v => String(v).replace('-', '\u2212');
const lineIcon = 'path://M0,0H62V4H0Z';
const BLUE = '#0b3fdb';

const chart = echarts.init(document.getElementById('chart'));
chart.setOption({
  animation: false,
  backgroundColor: '#fff',
  title: {
    text: 'Equilibration (Single trajectory)',
    left: 427, top: 8, textAlign: 'center',
    textStyle: { fontFamily: SERIF, fontSize: 28, fontWeight: 'normal', color: '#000' }
  },
  grid: { left: 113, right: 63, top: 55, bottom: 84, show: true, borderColor: '#000', borderWidth: 2 },
  legend: {
    left: 135, top: 79, orient: 'vertical', padding: 0,
    itemWidth: 62, itemHeight: 24, itemGap: 15, selectedMode: false,
    itemStyle: { borderWidth: 0 },
    data: [
      { name: 'xt', icon: lineIcon },
      { name: 'xbar', icon: lineIcon },
      { name: 'Ainv', icon: lineIcon },
      { name: 'x0', icon: 'circle' },
      { name: 'Ab', icon: 'circle' }
    ],
    formatter: n => legendLabels[n],
    textStyle: { rich: rich }
  },
  xAxis: {
    type: 'value', min: -2, max: 7,
    axisLine: { show: false, onZero: false }, splitLine: { show: false },
    axisTick: { show: true, customValues: xTicks, length: 7, lineStyle: { color: '#000', width: 1.6 } },
    axisLabel: { customValues: xTicks, formatter: minus, fontFamily: SERIF, fontSize: 23, color: '#000', margin: 22 },
    name: '{i|x}{sub|1}', nameLocation: 'middle', nameGap: 48,
    nameTextStyle: { rich: rich }
  },
  yAxis: {
    type: 'value', min: -3, max: 4.26,
    axisLine: { show: false, onZero: false }, splitLine: { show: false },
    axisTick: { show: true, customValues: yTicks, length: 7, lineStyle: { color: '#000', width: 1.6 } },
    axisLabel: { customValues: yTicks, formatter: minus, fontFamily: SERIF, fontSize: 23, color: '#000', margin: 24 },
    name: '{i|x}{sub|2}', nameLocation: 'middle', nameGap: 64,
    nameTextStyle: { rich: rich }
  },
  graphic: [{
    type: 'text', x: 783, y: 327, rotation: Math.PI / 2,
    style: { text: '{i|x}{sub|2}', rich: rich, align: 'center', verticalAlign: 'middle' }
  }],
  series: [
    {
      name: 'xt', type: 'line', data: walk, color: BLUE,
      showSymbol: false, symbol: 'none', z: 1,
      lineStyle: { width: 1.4, color: BLUE }
    },
    {
      name: 'xbar', type: 'line', data: pairs(meanPath), color: '#000',
      showSymbol: false, symbol: 'none', z: 3,
      lineStyle: { width: 2.8, color: '#000' }
    },
    {
      name: 'Ainv', type: 'line', data: pairs(ellipsePath), color: '#ff0000',
      showSymbol: false, symbol: 'none', smooth: true, z: 3,
      lineStyle: { width: 3, color: '#ff0000' }
    },
    {
      name: 'cross', type: 'scatter', data: [crossPoint], z: 4,
      symbol: 'path://M-1.7,-12H1.7V-1.7H12V1.7H1.7V12H-1.7V1.7H-12V-1.7H-1.7Z',
      symbolSize: [24, 32], itemStyle: { color: '#000', opacity: 1 }
    },
    {
      name: 'x0', type: 'scatter', data: [startPoint], z: 5,
      symbolSize: 20, itemStyle: { color: '#000', opacity: 1 }
    },
    {
      name: 'Ab', type: 'scatter', data: [targetPoint], z: 5,
      symbolSize: 20, itemStyle: { color: '#ff0000', opacity: 1 }
    }
  ]
});
</script>
</body>
</html>
